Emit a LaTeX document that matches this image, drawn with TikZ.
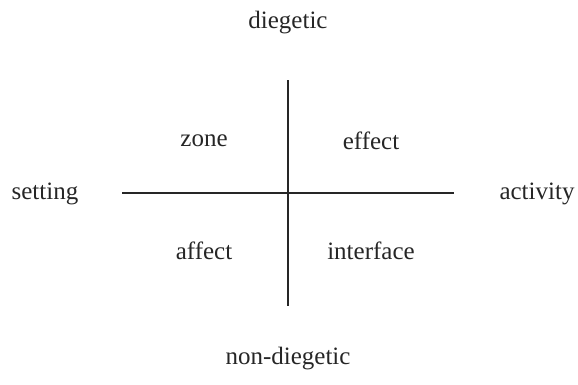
\documentclass[tikz,border=0pt]{standalone}
\usepackage{fontspec}
\setmainfont{Liberation Serif}
\usetikzlibrary{positioning}

\begin{document}
\begin{tikzpicture}[
  x=1pt, y=1pt,
  axis/.style={line width=2.2pt, black!85},
  pole/.style={font=\fontsize{25}{28}\selectfont, inner sep=0pt, text=black!85},
  quad/.style={font=\fontsize{25}{28}\selectfont, inner sep=0pt, text=black!85}
]
\useasboundingbox (0,0) rectangle (578,384);
\coordinate (left) at (122,191);
\coordinate (right) at (454,191);
\coordinate (top) at (288,304);
\coordinate (bottom) at (288,78);

\draw[axis] (left) -- (right);
\draw[axis] (top) -- (bottom);

\node[pole] (diegetic) at (288,361) {diegetic};
\node[pole] (nondiegetic) at (288,25) {non-diegetic};
\node[pole] (setting) at (45,190) {setting};
\node[pole] (activity) at (537,190) {activity};

\node[quad] (zone) at (204,243) {zone};
\node[quad] (effect) at (371,243) {effect};
\node[quad] (affect) at (204,133) {affect};
\node[quad] (interface) at (371,133) {interface};
\end{tikzpicture}
\end{document}
